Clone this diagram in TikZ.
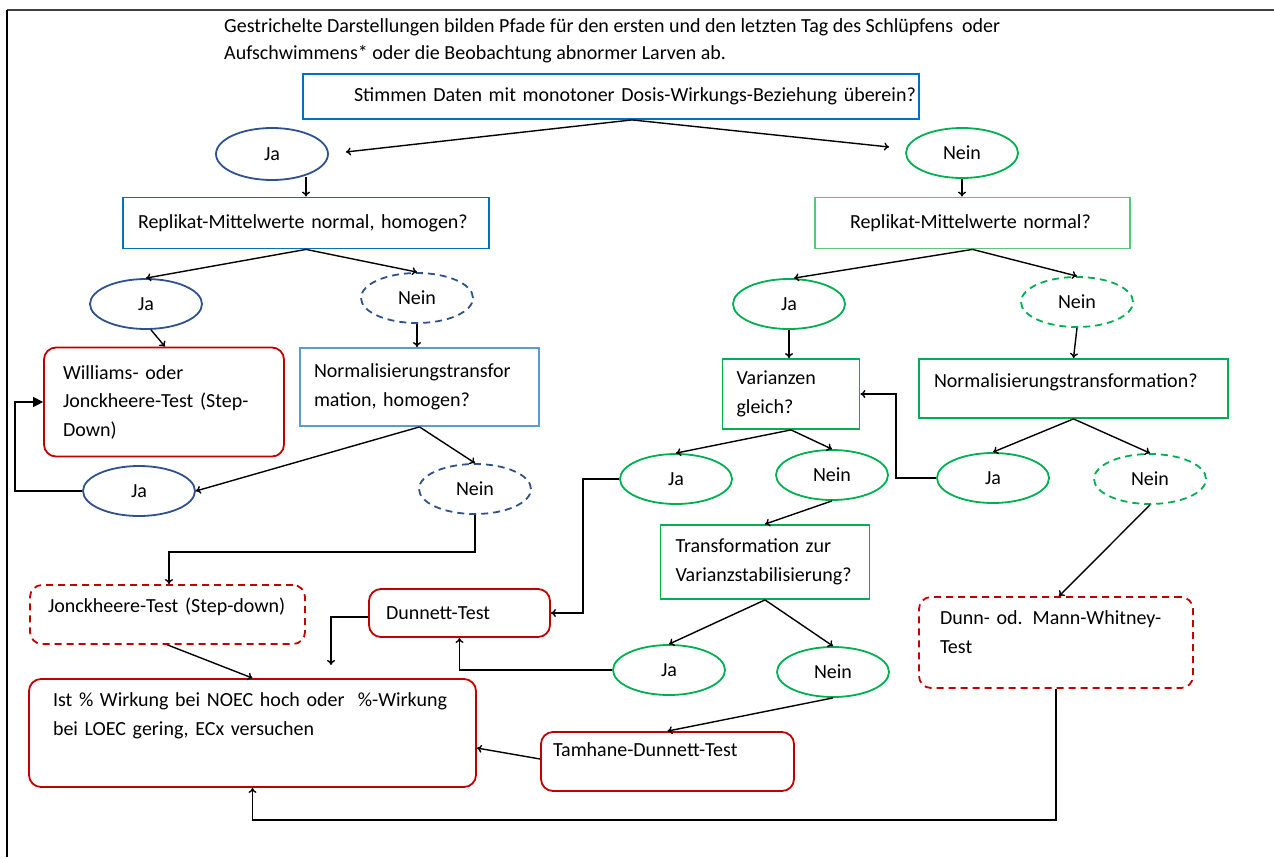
\documentclass[tikz,border=0pt]{standalone}
\usepackage{fontspec}
\setmainfont{Carlito}
\usetikzlibrary{arrows.meta, calc, positioning, shapes.geometric}
\definecolor{darkblue}{RGB}{47,82,143}
\definecolor{boxblue}{RGB}{0,112,192}
\definecolor{lightblue}{RGB}{91,155,213}
\definecolor{okgreen}{RGB}{0,176,80}
\definecolor{lightgreen}{RGB}{90,200,120}
\definecolor{accentred}{RGB}{192,0,0}
\hyphenpenalty=10000
\exhyphenpenalty=10000

\tikzset{
  yesno/.style={ellipse, draw, line width=1.8pt, minimum width=112pt, minimum height=50pt, inner sep=0pt},
  qbox/.style={rectangle, draw, line width=1.8pt, align=left, inner sep=0pt},
  testbox/.style={rectangle, rounded corners=12pt, draw=accentred, line width=1.8pt, align=left, inner sep=0pt},
  dashline/.style={dash pattern=on 7pt off 5pt},
  txtpad/.style={execute at begin node={\leftskip=#1\relax}},
  conn/.style={line width=1.4pt, -{To[length=5pt,width=8pt]}},
}

\begin{document}
\begin{tikzpicture}[x=1pt, y=-1pt, font=\fontsize{20}{28.5}\selectfont]
\useasboundingbox (0,0) rectangle (1274,857);

% frame
\draw[line width=2.5pt, black!75] (7,10) -- (1274,10);
\draw[line width=1.2pt] (7,10) -- (7,857);

% note
\node[anchor=base west, inner sep=0pt] (note1) at (224,32) {Gestrichelte Darstellungen bilden Pfade für den ersten und den letzten Tag des Schlüpfens~ oder};
\node[anchor=base west, inner sep=0pt] (note2) at (224,59) {Aufschwimmens* oder die Beobachtung abnormer Larven ab.};

% questions
\node[qbox, draw=boxblue, minimum width=616pt, minimum height=45pt, text width=616pt, txtpad=51pt] (q0) at (611,96.5) {Stimmen Daten mit monotoner Dosis-Wirkungs-Beziehung überein?};
\node[qbox, draw=boxblue, minimum width=366pt, minimum height=51pt, text width=360pt, txtpad=12pt] (q1) at (306,223) {Replikat-Mittelwerte normal, homogen?};
\node[qbox, draw=lightgreen, minimum width=315pt, minimum height=51pt, text width=309pt, txtpad=32pt] (q2) at (972.5,223) {Replikat-Mittelwerte normal?};
\node[qbox, draw=lightblue, minimum width=239pt, minimum height=78pt, text width=233pt, txtpad=11pt] (q3) at (419.5,387) {Normalisierungstransfor\\mation, homogen?};
\node[qbox, draw=okgreen, minimum width=137pt, minimum height=70pt, text width=131pt, txtpad=11pt] (q4) at (791,394) {Varianzen\\gleich?};
\node[qbox, draw=okgreen, minimum width=309pt, minimum height=59pt, text width=303pt, txtpad=12pt] (q5) at (1073.5,388.5) {Normalisierungstransformation?\\[-12pt]~};
\node[qbox, draw=okgreen, minimum width=209pt, minimum height=74pt, text width=203pt, txtpad=12pt] (q6) at (765,562) {Transformation zur\\Varianzstabilisierung?};

% answers
\node[yesno, draw=darkblue, minimum height=52pt] (ja1) at (272,154) {Ja};
\node[yesno, draw=okgreen] (nein1) at (962,153) {Nein};
\node[yesno, draw=darkblue] (ja2) at (146,304) {Ja};
\node[yesno, draw=darkblue, dashline] (nein2) at (417,298) {Nein};
\node[yesno, draw=darkblue] (ja3) at (139,491) {Ja};
\node[yesno, draw=darkblue, dashline] (nein3) at (475,489) {Nein};
\node[yesno, draw=okgreen] (ja4) at (789,304) {Ja};
\node[yesno, draw=okgreen, dashline] (nein4) at (1077,302) {Nein};
\node[yesno, draw=okgreen] (ja5) at (676,479) {Ja};
\node[yesno, draw=okgreen] (nein5) at (832,475) {Nein};
\node[yesno, draw=okgreen] (ja6) at (993,478) {Ja};
\node[yesno, draw=okgreen, dashline] (nein6) at (1150,479) {Nein};
\node[yesno, draw=okgreen] (ja7) at (669,670) {Ja};
\node[yesno, draw=okgreen] (nein7) at (833,672) {Nein};

% tests
\node[testbox, minimum width=240pt, minimum height=109pt, text width=234pt, txtpad=16pt] (will) at (164,402) {Williams- oder\\Jonckheere-Test (Step-\\Down)};
\node[testbox, dashline, minimum width=275pt, minimum height=59pt, text width=269pt, txtpad=15pt] (jonck) at (167.5,614.5) {Jonckheere-Test (Step-down)\\[-9.5pt]~};
\node[testbox, minimum width=181pt, minimum height=48pt, text width=175pt, txtpad=14pt] (dunnett) at (459.5,613) {Dunnett-Test};
\node[testbox, minimum width=253pt, minimum height=59pt, text width=247pt, txtpad=9pt] (tamhane) at (667.5,761.5) {Tamhane-Dunnett-Test\\[-5.5pt]~};
\node[testbox, dashline, minimum width=274pt, minimum height=91pt, text width=268pt, txtpad=18pt] (dunn) at (1056,642.5) {Dunn- od. Mann-Whitney-\\Test\\[-8pt]~};
\node[testbox, minimum width=447pt, minimum height=108pt, text width=441pt, txtpad=21pt] (ist) at (252.5,733) {Ist \% Wirkung bei NOEC hoch oder~ \%-Wirkung\\bei LOEC gering, ECx versuchen\\[9pt]~};

% connectors
\coordinate (q0b) at ($(q0.south west)!0.534!(q0.south east)$);
\coordinate (dn) at (331,665);
\draw[conn] (q0b) -- ([xshift=17pt,yshift=2pt]ja1.east);
\draw[conn] (q0b) -- ([xshift=-16pt,yshift=6pt]nein1.west);
\draw[conn] ([yshift=4pt]ja1.south -| q1.north) -- (q1.north);
\draw[conn] (nein1.south) -- (nein1.south |- q2.north);
\draw[conn] (q1.south) -- (ja2.north);
\draw[conn] (q1.south) -- (nein2.north);
\draw[conn] ([xshift=5pt]ja2.south) -- ([xshift=1pt]will.north);
\draw[conn] (nein2.south) -- (nein2.south |- q3.north);
\draw[conn] (q3.south) -- (ja3.east);
\draw[conn] (q3.south) -- (nein3.north);
\draw[line width=1.4pt, -{Triangle[length=10pt,width=10pt]}] (ja3.west) -- ++(-67,0) |- (will.west);
\draw[conn] (nein3.south) -- ++(0,37) -| ([xshift=1.5pt]jonck.north);
\draw[conn] (jonck.south) -- (ist.north);
\draw[conn] (q2.south) -- ([xshift=5pt]ja4.north);
\draw[conn] (q2.south) -- (nein4.north);
\draw[conn] (ja4.south) -- (ja4.south |- q4.north);
\draw[conn] (nein4.south) -- (q5.north);
\draw[conn] (q4.south) -- (ja5.north);
\draw[conn] (q4.south) -- (nein5.north);
\draw[conn] (q5.south) -- (ja6.north);
\draw[conn] (q5.south) -- (nein6.north);
\draw[conn] (ja6.west) -- ++(-40,0) |- (q4.east);
\draw[conn] (nein5.south) -- (q6.north);
\draw[conn] (q6.south) -- (ja7.north);
\draw[conn] (q6.south) -- (nein7.north);
\draw[conn] (ja5.west) -- ++(-36,0) |- (dunnett.east);
\draw[conn] ([yshift=-4pt]dunnett.west) -| (dn);
\draw[conn] (ja7.west) -| (dunnett.south);
\draw[conn] (nein7.south) -- (tamhane.north);
\draw[conn] ([yshift=2.5pt]tamhane.west) -- ([yshift=-15pt]ist.east);
\draw[conn] (nein6.south) -- ([xshift=3pt]dunn.north);
\draw[conn] (dunn.south) -- ++(0,131) -| (ist.south);
\end{tikzpicture}
\end{document}
